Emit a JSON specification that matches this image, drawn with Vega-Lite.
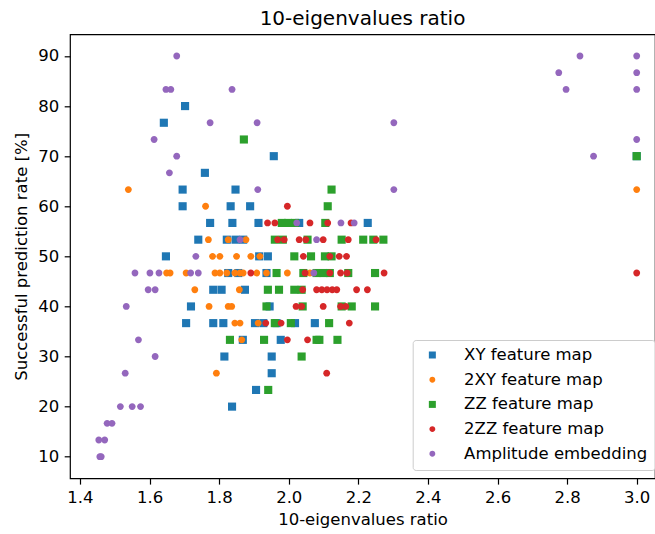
{
  "$schema": "https://vega.github.io/schema/vega-lite/v6.json",
  "autosize": {"type": "none"},
  "padding": {"left": 70, "top": 34.3, "right": 0, "bottom": 55.7},
  "width": 585,
  "height": 444,
  "background": "white",
  "title": {"text": "10-eigenvalues ratio", "font": "DejaVu Sans", "fontSize": 20, "fontWeight": "normal", "color": "#000", "anchor": "middle", "frame": "group", "baseline": "alphabetic", "offset": 9, "dy": 20},
  "config": {
    "view": {"stroke": "#000", "strokeWidth": 1.2},
    "axis": {"font": "DejaVu Sans", "labelFont": "DejaVu Sans", "titleFont": "DejaVu Sans", "labelFontSize": 16.5, "titleFontSize": 16.5, "titleFontWeight": "normal", "labelColor": "#000", "titleColor": "#000", "tickColor": "#000", "tickWidth": 1.2, "tickSize": 5.8, "labelPadding": 5.5, "domain": false, "grid": false, "labelFlush": false, "labelOverlap": false},
    "legend": {"labelFont": "DejaVu Sans"}
  },
  "datasets": {
    "pts": [
      {"s": "XY feature map", "x": 1.702, "y": 80},
      {"s": "XY feature map", "x": 1.641, "y": 76.67},
      {"s": "XY feature map", "x": 1.957, "y": 70},
      {"s": "XY feature map", "x": 3.0, "y": 70},
      {"s": "XY feature map", "x": 1.759, "y": 66.67},
      {"s": "XY feature map", "x": 1.695, "y": 63.33},
      {"s": "XY feature map", "x": 1.847, "y": 63.33},
      {"s": "XY feature map", "x": 1.695, "y": 60},
      {"s": "XY feature map", "x": 1.833, "y": 60},
      {"s": "XY feature map", "x": 1.889, "y": 60},
      {"s": "XY feature map", "x": 1.774, "y": 56.67},
      {"s": "XY feature map", "x": 1.838, "y": 56.67},
      {"s": "XY feature map", "x": 1.913, "y": 56.67},
      {"s": "XY feature map", "x": 2.030, "y": 56.67},
      {"s": "XY feature map", "x": 2.227, "y": 56.67},
      {"s": "XY feature map", "x": 1.740, "y": 53.33},
      {"s": "XY feature map", "x": 1.822, "y": 53.33},
      {"s": "XY feature map", "x": 1.847, "y": 53.33},
      {"s": "XY feature map", "x": 1.869, "y": 53.33},
      {"s": "XY feature map", "x": 1.647, "y": 50},
      {"s": "XY feature map", "x": 1.915, "y": 50},
      {"s": "XY feature map", "x": 1.940, "y": 50},
      {"s": "XY feature map", "x": 1.826, "y": 46.67},
      {"s": "XY feature map", "x": 1.855, "y": 46.67},
      {"s": "XY feature map", "x": 1.936, "y": 46.67},
      {"s": "XY feature map", "x": 1.783, "y": 43.33},
      {"s": "XY feature map", "x": 1.807, "y": 43.33},
      {"s": "XY feature map", "x": 1.874, "y": 43.33},
      {"s": "XY feature map", "x": 1.719, "y": 40},
      {"s": "XY feature map", "x": 1.945, "y": 40},
      {"s": "XY feature map", "x": 1.705, "y": 36.67},
      {"s": "XY feature map", "x": 1.783, "y": 36.67},
      {"s": "XY feature map", "x": 1.812, "y": 36.67},
      {"s": "XY feature map", "x": 1.903, "y": 36.67},
      {"s": "XY feature map", "x": 1.927, "y": 36.67},
      {"s": "XY feature map", "x": 1.965, "y": 36.67},
      {"s": "XY feature map", "x": 2.018, "y": 36.67},
      {"s": "XY feature map", "x": 2.075, "y": 36.67},
      {"s": "XY feature map", "x": 1.868, "y": 33.33},
      {"s": "XY feature map", "x": 1.977, "y": 33.33},
      {"s": "XY feature map", "x": 1.815, "y": 30},
      {"s": "XY feature map", "x": 1.951, "y": 30},
      {"s": "XY feature map", "x": 1.951, "y": 26.67},
      {"s": "XY feature map", "x": 1.906, "y": 23.33},
      {"s": "XY feature map", "x": 1.837, "y": 20},

      {"s": "2XY feature map", "x": 1.539, "y": 63.33},
      {"s": "2XY feature map", "x": 3.0, "y": 63.33},
      {"s": "2XY feature map", "x": 1.761, "y": 60},
      {"s": "2XY feature map", "x": 1.769, "y": 53.33},
      {"s": "2XY feature map", "x": 1.826, "y": 53.33},
      {"s": "2XY feature map", "x": 1.877, "y": 53.33},
      {"s": "2XY feature map", "x": 1.781, "y": 50},
      {"s": "2XY feature map", "x": 1.802, "y": 50},
      {"s": "2XY feature map", "x": 1.850, "y": 50},
      {"s": "2XY feature map", "x": 1.891, "y": 50},
      {"s": "2XY feature map", "x": 1.917, "y": 50},
      {"s": "2XY feature map", "x": 1.649, "y": 46.67},
      {"s": "2XY feature map", "x": 1.659, "y": 46.67},
      {"s": "2XY feature map", "x": 1.705, "y": 46.67},
      {"s": "2XY feature map", "x": 1.788, "y": 46.67},
      {"s": "2XY feature map", "x": 1.802, "y": 46.67},
      {"s": "2XY feature map", "x": 1.822, "y": 46.67},
      {"s": "2XY feature map", "x": 1.845, "y": 46.67},
      {"s": "2XY feature map", "x": 1.860, "y": 46.67},
      {"s": "2XY feature map", "x": 1.869, "y": 46.67},
      {"s": "2XY feature map", "x": 1.908, "y": 46.67},
      {"s": "2XY feature map", "x": 1.936, "y": 46.67},
      {"s": "2XY feature map", "x": 1.996, "y": 46.67},
      {"s": "2XY feature map", "x": 2.061, "y": 46.67},
      {"s": "2XY feature map", "x": 1.730, "y": 43.33},
      {"s": "2XY feature map", "x": 1.858, "y": 43.33},
      {"s": "2XY feature map", "x": 1.771, "y": 40},
      {"s": "2XY feature map", "x": 1.826, "y": 40},
      {"s": "2XY feature map", "x": 1.836, "y": 40},
      {"s": "2XY feature map", "x": 1.845, "y": 36.67},
      {"s": "2XY feature map", "x": 1.860, "y": 36.67},
      {"s": "2XY feature map", "x": 1.912, "y": 36.67},
      {"s": "2XY feature map", "x": 1.865, "y": 33.33},
      {"s": "2XY feature map", "x": 1.792, "y": 26.67},

      {"s": "ZZ feature map", "x": 1.871, "y": 73.33},
      {"s": "ZZ feature map", "x": 3.0, "y": 70},
      {"s": "ZZ feature map", "x": 2.123, "y": 63.33},
      {"s": "ZZ feature map", "x": 2.112, "y": 60},
      {"s": "ZZ feature map", "x": 1.980, "y": 56.67},
      {"s": "ZZ feature map", "x": 1.998, "y": 56.67},
      {"s": "ZZ feature map", "x": 2.018, "y": 56.67},
      {"s": "ZZ feature map", "x": 2.105, "y": 56.67},
      {"s": "ZZ feature map", "x": 1.960, "y": 53.33},
      {"s": "ZZ feature map", "x": 1.983, "y": 53.33},
      {"s": "ZZ feature map", "x": 2.054, "y": 53.33},
      {"s": "ZZ feature map", "x": 2.152, "y": 53.33},
      {"s": "ZZ feature map", "x": 2.214, "y": 53.33},
      {"s": "ZZ feature map", "x": 2.243, "y": 53.33},
      {"s": "ZZ feature map", "x": 2.272, "y": 53.33},
      {"s": "ZZ feature map", "x": 2.016, "y": 50},
      {"s": "ZZ feature map", "x": 2.064, "y": 50},
      {"s": "ZZ feature map", "x": 2.104, "y": 50},
      {"s": "ZZ feature map", "x": 2.123, "y": 50},
      {"s": "ZZ feature map", "x": 1.965, "y": 46.67},
      {"s": "ZZ feature map", "x": 2.042, "y": 46.67},
      {"s": "ZZ feature map", "x": 2.080, "y": 46.67},
      {"s": "ZZ feature map", "x": 2.100, "y": 46.67},
      {"s": "ZZ feature map", "x": 2.118, "y": 46.67},
      {"s": "ZZ feature map", "x": 2.171, "y": 46.67},
      {"s": "ZZ feature map", "x": 2.248, "y": 46.67},
      {"s": "ZZ feature map", "x": 1.940, "y": 43.33},
      {"s": "ZZ feature map", "x": 1.972, "y": 43.33},
      {"s": "ZZ feature map", "x": 2.016, "y": 43.33},
      {"s": "ZZ feature map", "x": 2.037, "y": 43.33},
      {"s": "ZZ feature map", "x": 1.936, "y": 40},
      {"s": "ZZ feature map", "x": 2.040, "y": 40},
      {"s": "ZZ feature map", "x": 2.152, "y": 40},
      {"s": "ZZ feature map", "x": 2.181, "y": 40},
      {"s": "ZZ feature map", "x": 2.248, "y": 40},
      {"s": "ZZ feature map", "x": 1.960, "y": 36.67},
      {"s": "ZZ feature map", "x": 2.006, "y": 36.67},
      {"s": "ZZ feature map", "x": 2.116, "y": 36.67},
      {"s": "ZZ feature map", "x": 1.831, "y": 33.33},
      {"s": "ZZ feature map", "x": 1.929, "y": 33.33},
      {"s": "ZZ feature map", "x": 2.080, "y": 33.33},
      {"s": "ZZ feature map", "x": 2.088, "y": 33.33},
      {"s": "ZZ feature map", "x": 2.140, "y": 33.33},
      {"s": "ZZ feature map", "x": 2.037, "y": 30},
      {"s": "ZZ feature map", "x": 1.941, "y": 23.33},

      {"s": "2ZZ feature map", "x": 1.996, "y": 60},
      {"s": "2ZZ feature map", "x": 1.939, "y": 56.67},
      {"s": "2ZZ feature map", "x": 1.960, "y": 56.67},
      {"s": "2ZZ feature map", "x": 2.061, "y": 56.67},
      {"s": "2ZZ feature map", "x": 2.112, "y": 56.67},
      {"s": "2ZZ feature map", "x": 2.179, "y": 56.67},
      {"s": "2ZZ feature map", "x": 1.968, "y": 53.33},
      {"s": "2ZZ feature map", "x": 1.987, "y": 53.33},
      {"s": "2ZZ feature map", "x": 2.030, "y": 53.33},
      {"s": "2ZZ feature map", "x": 2.049, "y": 53.33},
      {"s": "2ZZ feature map", "x": 2.099, "y": 53.33},
      {"s": "2ZZ feature map", "x": 2.171, "y": 53.33},
      {"s": "2ZZ feature map", "x": 2.251, "y": 53.33},
      {"s": "2ZZ feature map", "x": 2.042, "y": 50},
      {"s": "2ZZ feature map", "x": 2.118, "y": 50},
      {"s": "2ZZ feature map", "x": 2.145, "y": 50},
      {"s": "2ZZ feature map", "x": 2.166, "y": 50},
      {"s": "2ZZ feature map", "x": 1.891, "y": 46.67},
      {"s": "2ZZ feature map", "x": 2.047, "y": 46.67},
      {"s": "2ZZ feature map", "x": 2.118, "y": 46.67},
      {"s": "2ZZ feature map", "x": 2.149, "y": 46.67},
      {"s": "2ZZ feature map", "x": 2.168, "y": 46.67},
      {"s": "2ZZ feature map", "x": 2.274, "y": 46.67},
      {"s": "2ZZ feature map", "x": 3.0, "y": 46.67},
      {"s": "2ZZ feature map", "x": 2.040, "y": 43.33},
      {"s": "2ZZ feature map", "x": 2.080, "y": 43.33},
      {"s": "2ZZ feature map", "x": 2.095, "y": 43.33},
      {"s": "2ZZ feature map", "x": 2.110, "y": 43.33},
      {"s": "2ZZ feature map", "x": 2.125, "y": 43.33},
      {"s": "2ZZ feature map", "x": 2.138, "y": 43.33},
      {"s": "2ZZ feature map", "x": 2.195, "y": 43.33},
      {"s": "2ZZ feature map", "x": 2.226, "y": 43.33},
      {"s": "2ZZ feature map", "x": 2.021, "y": 40},
      {"s": "2ZZ feature map", "x": 2.037, "y": 40},
      {"s": "2ZZ feature map", "x": 2.099, "y": 40},
      {"s": "2ZZ feature map", "x": 2.149, "y": 40},
      {"s": "2ZZ feature map", "x": 2.164, "y": 40},
      {"s": "2ZZ feature map", "x": 1.934, "y": 36.67},
      {"s": "2ZZ feature map", "x": 1.978, "y": 36.67},
      {"s": "2ZZ feature map", "x": 2.174, "y": 36.67},
      {"s": "2ZZ feature map", "x": 1.996, "y": 33.33},
      {"s": "2ZZ feature map", "x": 2.054, "y": 33.33},
      {"s": "2ZZ feature map", "x": 2.109, "y": 26.67},

      {"s": "Amplitude embedding", "x": 1.678, "y": 90},
      {"s": "Amplitude embedding", "x": 2.837, "y": 90},
      {"s": "Amplitude embedding", "x": 3.0, "y": 90},
      {"s": "Amplitude embedding", "x": 2.776, "y": 86.67},
      {"s": "Amplitude embedding", "x": 3.0, "y": 86.67},
      {"s": "Amplitude embedding", "x": 1.647, "y": 83.33},
      {"s": "Amplitude embedding", "x": 1.661, "y": 83.33},
      {"s": "Amplitude embedding", "x": 1.837, "y": 83.33},
      {"s": "Amplitude embedding", "x": 2.797, "y": 83.33},
      {"s": "Amplitude embedding", "x": 3.0, "y": 83.33},
      {"s": "Amplitude embedding", "x": 1.774, "y": 76.67},
      {"s": "Amplitude embedding", "x": 1.909, "y": 76.67},
      {"s": "Amplitude embedding", "x": 2.302, "y": 76.67},
      {"s": "Amplitude embedding", "x": 1.613, "y": 73.33},
      {"s": "Amplitude embedding", "x": 3.0, "y": 73.33},
      {"s": "Amplitude embedding", "x": 1.678, "y": 70},
      {"s": "Amplitude embedding", "x": 2.876, "y": 70},
      {"s": "Amplitude embedding", "x": 1.657, "y": 66.67},
      {"s": "Amplitude embedding", "x": 1.911, "y": 63.33},
      {"s": "Amplitude embedding", "x": 2.302, "y": 63.33},
      {"s": "Amplitude embedding", "x": 2.023, "y": 56.67},
      {"s": "Amplitude embedding", "x": 2.150, "y": 56.67},
      {"s": "Amplitude embedding", "x": 2.188, "y": 56.67},
      {"s": "Amplitude embedding", "x": 1.860, "y": 53.33},
      {"s": "Amplitude embedding", "x": 2.080, "y": 53.33},
      {"s": "Amplitude embedding", "x": 1.733, "y": 50},
      {"s": "Amplitude embedding", "x": 1.558, "y": 46.67},
      {"s": "Amplitude embedding", "x": 1.601, "y": 46.67},
      {"s": "Amplitude embedding", "x": 1.627, "y": 46.67},
      {"s": "Amplitude embedding", "x": 1.718, "y": 46.67},
      {"s": "Amplitude embedding", "x": 1.740, "y": 46.67},
      {"s": "Amplitude embedding", "x": 2.072, "y": 46.67},
      {"s": "Amplitude embedding", "x": 1.596, "y": 43.33},
      {"s": "Amplitude embedding", "x": 1.616, "y": 43.33},
      {"s": "Amplitude embedding", "x": 1.533, "y": 40},
      {"s": "Amplitude embedding", "x": 1.568, "y": 33.33},
      {"s": "Amplitude embedding", "x": 1.616, "y": 30},
      {"s": "Amplitude embedding", "x": 1.530, "y": 26.67},
      {"s": "Amplitude embedding", "x": 1.516, "y": 20},
      {"s": "Amplitude embedding", "x": 1.550, "y": 20},
      {"s": "Amplitude embedding", "x": 1.574, "y": 20},
      {"s": "Amplitude embedding", "x": 1.478, "y": 16.67},
      {"s": "Amplitude embedding", "x": 1.492, "y": 16.67},
      {"s": "Amplitude embedding", "x": 1.454, "y": 13.33},
      {"s": "Amplitude embedding", "x": 1.471, "y": 13.33},
      {"s": "Amplitude embedding", "x": 1.457, "y": 10},
      {"s": "Amplitude embedding", "x": 1.461, "y": 10}
    ]
  },
  "data": {"name": "pts"},
  "mark": {"type": "point", "filled": true, "opacity": 1, "size": 66, "strokeWidth": 0},
  "encoding": {
    "x": {"field": "x", "type": "quantitative", "scale": {"domain": [1.3713, 3.0526], "nice": false, "zero": false},
      "axis": {"title": "10-eigenvalues ratio", "values": [1.4, 1.6, 1.8, 2.0, 2.2, 2.4, 2.6, 2.8, 3.0], "format": ".1f", "titlePadding": 5}},
    "y": {"field": "y", "type": "quantitative", "scale": {"domain": [5.69, 94.33], "nice": false, "zero": false},
      "axis": {"title": "Successful prediction rate [%]", "values": [10, 20, 30, 40, 50, 60, 70, 80, 90], "format": "d", "titlePadding": 8}},
    "color": {"field": "s", "type": "nominal",
      "scale": {"domain": ["XY feature map", "2XY feature map", "ZZ feature map", "2ZZ feature map", "Amplitude embedding"], "range": ["#1f77b4", "#ff7f0e", "#2ca02c", "#d62728", "#9467bd"]},
      "legend": {"title": null, "orient": "none", "legendX": 342.7, "legendY": 305.7, "direction": "vertical", "fillColor": "rgba(255,255,255,0.8)", "strokeColor": "#cccccc", "cornerRadius": 3, "padding": 6.75, "rowPadding": 7.7, "labelFontSize": 16.5, "labelFont": "DejaVu Sans", "labelColor": "#000", "symbolSize": 49, "symbolStrokeWidth": 0, "symbolOffset": 4.65, "labelOffset": 23.5, "labelLimit": 400}},
    "shape": {"field": "s", "type": "nominal",
      "scale": {"domain": ["XY feature map", "2XY feature map", "ZZ feature map", "2ZZ feature map", "Amplitude embedding"], "range": ["square", "M-0.84,0A0.84,0.84,0,1,0,0.84,0A0.84,0.84,0,1,0,-0.84,0Z", "square", "M-0.84,0A0.84,0.84,0,1,0,0.84,0A0.84,0.84,0,1,0,-0.84,0Z", "M-0.84,0A0.84,0.84,0,1,0,0.84,0A0.84,0.84,0,1,0,-0.84,0Z"]}}
  }
}
